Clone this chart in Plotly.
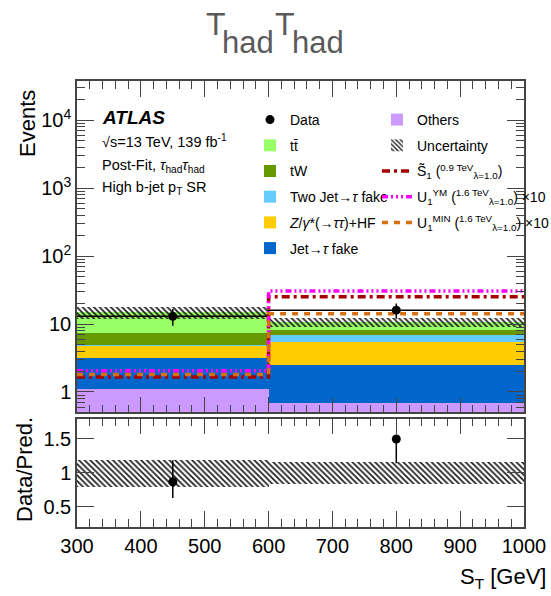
import numpy as np
import plotly.graph_objects as go

# ---------------- data ----------------
bin_edges = [300, 600, 1000]
bin_centers = [450, 800]
bin_widths = [300, 400]

others = [1.12, 0.69]
jet_fake = [2.06, 1.78]
ztautau = [1.70, 3.00]
two_jet_fake = [0.05, 1.39]
tw = [2.55, 1.44]
ttbar = [7.52, 2.37]

data = [13, 16]
data_err = [3.6, 4.0]
ratio_err_up = [0.32, 0.0]
ratio_err_down = [0.24, 0.36]
unc_rel = [0.20, 0.163]

sig_s1 = [1.66, 25.3]
sig_u1ym = [2.06, 30.6]
sig_u1min = [1.80, 14.2]

# ---------------- helpers ----------------
W, H = 551, 596
ML, MR, MT, MB = 77, 27, 81, 69
PW, PH = W - ML - MR, H - MT - MB


def px(x):
    return (x - ML) / PW


def py(y):
    return (H - MB - y) / PH


FONT = "Liberation Sans"
AX = "#444444"

stack = [
    ("Others", others, "#cc99ff", 1),
    ("Jet→<i>τ</i> fake", jet_fake, "#0066cc", 6),
    ("<i>Z</i>/<i>γ</i>*(→<i>ττ</i>)+HF", ztautau, "#ffcc00", 5),
    ("Two Jet→<i>τ</i> fake", two_jet_fake, "#66ccff", 4),
    ("tW", tw, "#669900", 3),
    ("tt̄", ttbar, "#99ff66", 2),
]

fig = go.Figure()

for i, (name, vals, col, rank) in enumerate(stack):
    fig.add_trace(go.Bar(
        x=bin_centers, y=vals, width=bin_widths, name=name,
        marker=dict(color=col, line=dict(width=0)),
        legend="legend2" if name == "Others" else "legend",
        legendrank=rank, legendgroup="g%d" % rank,
        xaxis="x", yaxis="y", hoverinfo="skip",
    ))

total = np.sum([np.array(s[1]) for s in stack], axis=0)
lo = total * (1 - np.array(unc_rel))
hi = total * (1 + np.array(unc_rel))

HATCH = dict(shape="\\", fgcolor="#1a1a1a", fgopacity=1, bgcolor="rgba(0,0,0,0)", size=4, solidity=0.42)

fig.add_trace(go.Bar(
    x=bin_centers, y=hi - lo, base=lo, width=bin_widths, name="Uncertainty",
    marker=dict(color="rgba(0,0,0,0)", line=dict(width=0), pattern=HATCH),
    legend="legend2", legendrank=2, legendgroup="unc", xaxis="x", yaxis="y",
))

edges = np.array(bin_edges)


def step_y(v):
    return np.append(np.array(v), v[-1])


# data histogram line
fig.add_trace(go.Scatter(
    x=edges, y=step_y(data), mode="lines", line=dict(color="black", width=1.5, shape="hv"),
    showlegend=False, xaxis="x", yaxis="y",
))

sigs = [
    ("S̃<sub>1</sub> (<sup>0.9 TeV</sup><sub>λ=1.0</sub>)", sig_s1, "#a50000", "8px,4px,3px,4px", 3),
    ("U<sub>1</sub><sup>YM</sup> (<sup>1.6 TeV</sup><sub>λ=1.0</sub>) ×10", sig_u1ym, "#ff00ff",
     "6px,3px,2px,3px,2px,3px,2px,3px", 4),
    ("U<sub>1</sub><sup>MIN</sup> (<sup>1.6 TeV</sup><sub>λ=1.0</sub>) ×10", sig_u1min, "#d9700f",
     "6px,6px", 5),
]
for name, vals, col, dash, rank in sigs:
    fig.add_trace(go.Scatter(
        x=edges, y=step_y(vals), mode="lines", name=name,
        line=dict(color=col, width=3.5, dash=dash, shape="hv"),
        legend="legend2", legendrank=rank, legendgroup="s%d" % rank, xaxis="x", yaxis="y",
    ))

fig.add_trace(go.Scatter(
    x=bin_centers, y=data, mode="markers", name="Data",
    marker=dict(color="black", size=9),
    error_y=dict(type="data", array=data_err, color="black", thickness=1.5, width=0),
    legend="legend", legendrank=1, legendgroup="data", xaxis="x", yaxis="y",
))

# ratio panel
ratio = np.array(data) / total
fig.add_trace(go.Bar(
    x=bin_centers, y=2 * np.array(unc_rel), base=1 - np.array(unc_rel), width=bin_widths,
    marker=dict(color="rgba(0,0,0,0)", line=dict(width=0), pattern=HATCH),
    showlegend=False, xaxis="x2", yaxis="y2",
))
fig.add_trace(go.Scatter(
    x=bin_centers, y=ratio, mode="markers", marker=dict(color="black", size=9),
    error_y=dict(type="data", symmetric=False, array=ratio_err_up, arrayminus=ratio_err_down,
                 color="black", thickness=1.5, width=0),
    showlegend=False, xaxis="x2", yaxis="y2",
))

# ---------------- layout ----------------
logminor = [m * 10 ** e for e in range(-1, 5) for m in range(2, 10)]

common_x = dict(range=[300, 1000], ticks="inside", ticklen=16, tickcolor=AX, mirror="allticks",
                showline=True, linecolor=AX, linewidth=1.5, showgrid=False, zeroline=False,
                dtick=100, minor=dict(ticks="inside", ticklen=8, dtick=20, tickcolor=AX, showgrid=False))

LEG = dict(xanchor="left", yanchor="top", bgcolor="rgba(0,0,0,0)",
           font=dict(size=14, family=FONT), traceorder="grouped", tracegroupgap=4.5)

fig.update_layout(
    width=W, height=H, margin=dict(l=ML, r=MR, t=MT, b=MB, autoexpand=False),
    plot_bgcolor="white", paper_bgcolor="white",
    barmode="stack", bargap=0,
    font=dict(family=FONT, size=20, color="black"),
    xaxis=dict(common_x, domain=[0, 1], anchor="y", showticklabels=False, matches="x2"),
    xaxis2=dict(common_x, domain=[0, 1], anchor="y2", tickfont=dict(size=20)),
    yaxis=dict(type="log", domain=[0.257, 1], range=[np.log10(0.5), 4.58], anchor="x",
               ticks="inside", ticklen=17, tickcolor=AX, mirror="allticks", showline=True,
               linecolor=AX, linewidth=1.5, showgrid=False, zeroline=False,
               tickvals=[1, 10, 100, 1000, 10000],
               ticktext=["1", "10", "10<sup>2</sup>", "10<sup>3</sup>", "10<sup>4</sup>"],
               minor=dict(ticks="inside", ticklen=8, tickvals=logminor, tickcolor=AX, showgrid=False)),
    yaxis2=dict(domain=[0, 0.243], range=[0.2, 1.8], anchor="x2",
                ticks="inside", ticklen=17, tickcolor=AX, mirror="allticks", showline=True,
                linecolor=AX, linewidth=1.5, showgrid=False, zeroline=False,
                tickvals=[0.5, 1, 1.5], ticktext=["0.5", "1", "1.5"]),
    legend=dict(LEG, x=px(250), y=py(104)),
    legend2=dict(LEG, x=px(377), y=py(104)),
    showlegend=True,
)

ann = []


def text(x, y, s, size, xanchor="left", yanchor="middle", color="black", angle=0):
    ann.append(dict(x=px(x), y=py(y), xref="paper", yref="paper", text=s, showarrow=False,
                    xanchor=xanchor, yanchor=yanchor, textangle=angle,
                    font=dict(size=size, color=color, family=FONT)))


GRAY = "#5a5a5a"
text(204, 24, "Τ", 32, color=GRAY)
text(220, 42, "had", 31, color=GRAY)
text(273, 24, "Τ", 32, color=GRAY)
text(290, 42, "had", 31, color=GRAY)

text(100, 117, "<b><i>ATLAS</i></b>", 19)
text(100, 141, "√s=13 TeV, 139 fb<sup>-1</sup>", 14.5)
text(100, 166, "Post-Fit, <i>τ</i><sub>had</sub><i>τ</i><sub>had</sub>", 14.5)
text(100, 188, "High b-jet p<sub>T</sub> SR", 14.5)

text(28, 124, "Events", 22, xanchor="center", angle=-90)
text(24, 470, "Data/Pred.", 22, xanchor="center", angle=-90)
text(548, 578, "S<sub>T</sub> [GeV]", 22, xanchor="right")

fig.update_layout(annotations=ann)

fig.write_html("out.html")
